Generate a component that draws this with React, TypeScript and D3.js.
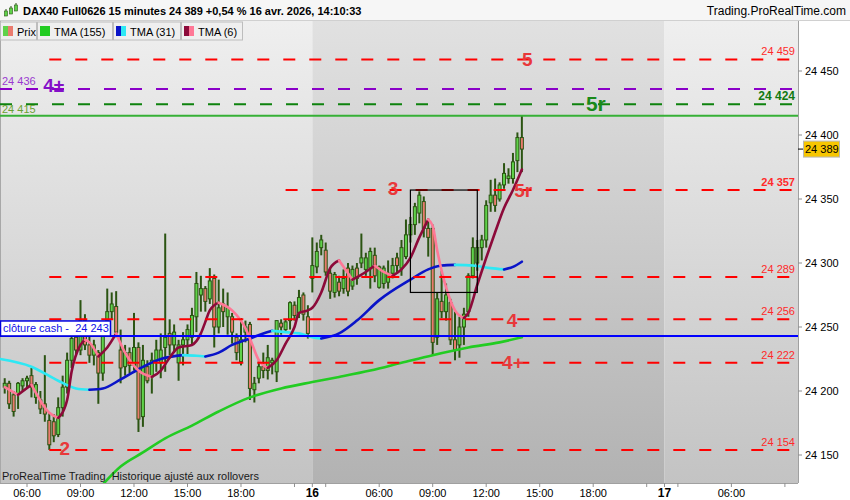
import React, { useEffect, useRef } from 'react';
import * as d3 from 'd3';

// slot = 15 minute bar counted from 06:00 on the 15th (session 02:15 - 22:00)
const day15Start = -5;
const day15Candles: number[][] = [
  [24203, 24210, 24198, 24206], [24206, 24208, 24186, 24190], [24197, 24200, 24180, 24184],
  [24198, 24207, 24186, 24206], [24204, 24210, 24200, 24208], [24208, 24212, 24202, 24210],
  [24212, 24218, 24195, 24203], [24195, 24207, 24190, 24205], [24193, 24200, 24182, 24186],
  [24190, 24228, 24176, 24182], [24177, 24183, 24154, 24158], [24176, 24182, 24160, 24165],
  [24166, 24195, 24164, 24187], [24187, 24212, 24180, 24203], [24203, 24230, 24198, 24224],
  [24224, 24248, 24218, 24241], [24242, 24250, 24228, 24232], [24232, 24271, 24228, 24255],
  [24255, 24260, 24232, 24236], [24236, 24245, 24222, 24228], [24228, 24240, 24220, 24236],
  [24230, 24232, 24190, 24214], [24214, 24248, 24208, 24244], [24255, 24280, 24250, 24262],
  [24262, 24277, 24256, 24268], [24266, 24278, 24242, 24246], [24232, 24248, 24206, 24218],
  [24219, 24236, 24212, 24230], [24230, 24234, 24214, 24220], [24220, 24261, 24216, 24234],
  [24234, 24238, 24168, 24178], [24180, 24236, 24172, 24224], [24219, 24224, 24206, 24208],
  [24211, 24230, 24198, 24224], [24224, 24240, 24215, 24232], [24222, 24245, 24210, 24232],
  [24234, 24323, 24215, 24242], [24245, 24256, 24228, 24236], [24236, 24252, 24230, 24246],
  [24222, 24240, 24208, 24236], [24236, 24246, 24220, 24240], [24240, 24252, 24228, 24248],
  [24242, 24265, 24236, 24259], [24258, 24293, 24246, 24284], [24275, 24290, 24262, 24280],
  [24280, 24282, 24262, 24270], [24272, 24296, 24268, 24286], [24288, 24291, 24234, 24250],
  [24250, 24287, 24245, 24265], [24268, 24280, 24250, 24262], [24258, 24277, 24244, 24265],
  [24258, 24261, 24237, 24246], [24242, 24245, 24224, 24230], [24223, 24257, 24220, 24240],
  [24246, 24255, 24238, 24250], [24252, 24254, 24193, 24202], [24201, 24211, 24191, 24206],
  [24210, 24224, 24206, 24219], [24219, 24230, 24210, 24216], [24216, 24236, 24209, 24226],
  [24222, 24226, 24213, 24224], [24215, 24255, 24207, 24255], [24253, 24256, 24244, 24250],
  [24248, 24256, 24246, 24254], [24255, 24270, 24248, 24269], [24267, 24270, 24255, 24259],
  [24261, 24279, 24257, 24273], [24275, 24277, 24255, 24260], [24258, 24267, 24241, 24245],
];

const day16Start = 64;
const day16Candles: number[][] = [
  [24288, 24320, 24277, 24298], [24297, 24316, 24292, 24309], [24312, 24322, 24306, 24318],
  [24310, 24316, 24290, 24293], [24292, 24296, 24272, 24278], [24277, 24293, 24273, 24291],
  [24285, 24290, 24274, 24278], [24280, 24295, 24276, 24288], [24296, 24300, 24274, 24278],
  [24282, 24298, 24279, 24295], [24296, 24300, 24283, 24288], [24300, 24323, 24296, 24304],
  [24295, 24308, 24290, 24304], [24296, 24312, 24280, 24309], [24306, 24312, 24285, 24290],
  [24281, 24298, 24280, 24297], [24284, 24298, 24280, 24296], [24285, 24302, 24280, 24292],
  [24292, 24304, 24288, 24298], [24304, 24308, 24292, 24298], [24296, 24318, 24290, 24312],
  [24305, 24334, 24303, 24322], [24322, 24336, 24316, 24330], [24330, 24347, 24322, 24344],
  [24339, 24356, 24331, 24353], [24348, 24352, 24320, 24327], [24327, 24334, 24305, 24320],
  [24327, 24330, 24228, 24238], [24242, 24277, 24236, 24272], [24270, 24294, 24257, 24262],
  [24262, 24284, 24255, 24275], [24269, 24272, 24236, 24240], [24240, 24262, 24224, 24232],
  [24236, 24258, 24226, 24250], [24250, 24265, 24236, 24260], [24262, 24292, 24258, 24290],
  [24290, 24320, 24288, 24312], [24300, 24318, 24294, 24312], [24312, 24322, 24302, 24318],
  [24318, 24349, 24312, 24345], [24347, 24365, 24340, 24353], [24353, 24366, 24340, 24345],
  [24350, 24363, 24348, 24361], [24361, 24378, 24358, 24370], [24366, 24374, 24362, 24368],
  [24366, 24386, 24362, 24379], [24380, 24402, 24371, 24398], [24398, 24415, 24371, 24389],
];

// moving averages: [slot, value]
const tma155: number[][] = [
  [17, 24127], [21, 24141], [26, 24152], [31, 24163], [37, 24173], [43, 24184], [50, 24195],
  [57, 24202], [64, 24207], [70, 24211], [77, 24216], [84, 24222], [91, 24228], [99, 24234],
  [106, 24238], [111, 24242],
];
const tma31: number[][] = [
  [-6, 24225], [1, 24219], [7, 24208], [11, 24202], [14, 24201], [17, 24202], [21, 24209],
  [25, 24217], [30, 24225], [35, 24228], [38, 24227.5], [40, 24227], [43, 24230], [46, 24236],
  [50, 24241], [53, 24245], [55, 24247], [58, 24246], [61, 24245], [64, 24242], [66, 24241],
  [70, 24245], [74, 24255], [79, 24271], [86, 24287], [90, 24295], [93, 24298], [96, 24298.5],
  [100, 24298], [104, 24296], [107, 24295], [109, 24297], [111, 24301],
];
const tma6: number[][] = [
  [-5, 24203], [-2, 24197], [1, 24205], [5, 24183], [7, 24179], [9, 24193], [10, 24215],
  [12, 24236], [13, 24240], [14, 24238], [16, 24227], [18, 24234], [20, 24245], [22, 24230],
  [25, 24216], [28, 24211], [30, 24216], [32, 24226], [34, 24234], [37, 24236], [39, 24245],
  [40, 24254], [41, 24263], [43, 24269], [46, 24263], [49, 24249], [50, 24241], [52, 24224],
  [54, 24218], [56, 24224], [58, 24237], [60, 24250], [61, 24261], [63, 24263], [64, 24265],
  [66, 24277], [68, 24296], [70, 24302], [72, 24292], [73, 24287], [76, 24293], [78, 24298],
  [80, 24293], [82, 24290], [84, 24295], [86, 24304], [88, 24320], [90, 24334], [91, 24329],
  [92, 24310], [94, 24281], [96, 24263], [98, 24257], [99, 24261], [101, 24283], [103, 24304],
  [105, 24324], [107, 24343], [109, 24357], [111, 24373],
];

const redLevels = [24459, 24357, 24289, 24256, 24222, 24154];
const redLevelFrom = [5, 58, 5, 5, 5, 5];
const purpleLevel = 24436;
const greenDashLevel = 24424;
const greenLevel = 24415;
const cashClose = 24243;
const lastPrice = 24389;

const boxSlots = [86, 101];
const boxPrices = [24357, 24277];

const annText = ['5', '4±', '5r', '3', '5r', '4', '4+', '2'];
const annSlot = [112.2, 6, 127.6, 82.1, 111.3, 108.8, 109, 8.5];
const annPrice = [24459, 24439, 24425, 24358, 24357, 24255, 24222, 24155];
const annKind = ['red', 'purple', 'green', 'red', 'red', 'red', 'red', 'red'];

const yTicks = [24150, 24200, 24250, 24300, 24350, 24400, 24450];
const xTickSlots = [0, 12, 24, 36, 48, 60, 64, 67, 79, 91, 103, 115, 127, 139, 143, 146, 158, 170];
const xTickLabels = ['06:00', '09:00', '12:00', '15:00', '18:00', '', '16', '', '06:00', '09:00',
  '12:00', '15:00', '18:00', '', '17', '', '06:00', ''];

const legendLabels = ['Prix', 'TMA (155)', 'TMA (31)', 'TMA (6)'];
const headerText = 'DAX40 Full0626 15 minutes 24 389 +0,54 % 16 avr. 2026, 14:10:33';

const W = 850;
const H = 500;
const plotR = 798;
const plotT = 21;
const plotB = 483;
const font = '"Liberation Sans", Arial, sans-serif';

const fmt = (v: number) => `${Math.floor(v / 1000)} ${String(Math.round(v) % 1000).padStart(3, '0')}`;

function runs(pts: number[][]) {
  const out: { up: boolean; pts: number[][] }[] = [];
  for (let i = 1; i < pts.length; i++) {
    const up = pts[i][1] > pts[i - 1][1];
    const last = out[out.length - 1];
    if (last && last.up === up) last.pts.push(pts[i]);
    else out.push({ up, pts: [pts[i - 1], pts[i]] });
  }
  return out;
}

const App: React.FC = () => {
  const svgRef = useRef<SVGSVGElement | null>(null);

  useEffect(() => {
    if (!svgRef.current) return;
    const svg = d3.select(svgRef.current);
    svg.selectAll('*').remove();

    const x = d3.scaleLinear().domain([0, 103]).range([27, 486.2]);
    const y = d3.scaleLinear().domain([24150, 24450]).range([455, 71]);

    const defs = svg.append('defs');
    const grad = (id: string, top: string, bottom: string) => {
      const g = defs.append('linearGradient').attr('id', id)
        .attr('x1', 0).attr('y1', 0).attr('x2', 0).attr('y2', 1);
      g.append('stop').attr('offset', '0%').attr('stop-color', top);
      g.append('stop').attr('offset', '100%').attr('stop-color', bottom);
    };
    grad('bgLight', '#efefef', '#c3c3c3');
    grad('bgDark', '#e1e1e1', '#b2b2b2');
    defs.append('clipPath').attr('id', 'plotClip')
      .append('rect').attr('x', 0).attr('y', plotT).attr('width', plotR).attr('height', plotB - plotT);

    svg.append('rect').attr('width', W).attr('height', H).attr('fill', '#ffffff');

    // day shading
    const bounds = [0, x(64), x(143), plotR];
    ['bgLight', 'bgDark', 'bgLight'].forEach((id, i) => {
      svg.append('rect')
        .attr('x', bounds[i]).attr('y', plotT)
        .attr('width', bounds[i + 1] - bounds[i]).attr('height', plotB - plotT)
        .attr('fill', `url(#${id})`);
    });
    svg.append('line').attr('x1', 0.5).attr('x2', 0.5).attr('y1', plotT).attr('y2', plotB)
      .attr('stroke', '#a8a8a8');

    const plot = svg.append('g').attr('clip-path', 'url(#plotClip)');

    // candles
    const bars = [
      ...day15Candles.map((c, i) => ({ s: day15Start + i, o: c[0], h: c[1], l: c[2], c: c[3] })),
      ...day16Candles.map((c, i) => ({ s: day16Start + i, o: c[0], h: c[1], l: c[2], c: c[3] })),
    ];
    const cg = plot.append('g');
    cg.selectAll('line').data(bars).join('line')
      .attr('x1', d => x(d.s)).attr('x2', d => x(d.s))
      .attr('y1', d => y(d.h)).attr('y2', d => y(d.l))
      .attr('stroke', '#2b5412').attr('stroke-width', 2);
    cg.selectAll('rect').data(bars).join('rect')
      .attr('x', d => x(d.s) - 1.5).attr('width', 3)
      .attr('y', d => y(Math.max(d.o, d.c)))
      .attr('height', d => Math.max(1, Math.abs(y(d.o) - y(d.c))))
      .attr('fill', d => (d.c >= d.o ? '#5fd24a' : '#ea7b6e'))
      .attr('stroke', '#2b5412').attr('stroke-width', 1);

    // moving averages
    const line = d3.line<number[]>().x(d => x(d[0])).y(d => y(d[1])).curve(d3.curveMonotoneX);
    const drawTma = (pts: number[][], upColor: string, downColor: string) => {
      runs(pts).forEach(r => {
        plot.append('path').attr('d', line(r.pts) as string)
          .attr('fill', 'none').attr('stroke', r.up ? upColor : downColor)
          .attr('stroke-width', 2.6).attr('stroke-linecap', 'round');
      });
    };
    drawTma(tma155, '#22cc22', '#22cc22');
    drawTma(tma31, '#0a14c8', '#2ee8f4');
    drawTma(tma6, '#8c0a3a', '#ff7896');

    // levels
    const hline = (v: number, from: number, color: string, dash: string | null, w = 2) => {
      const l = plot.append('line')
        .attr('x1', from).attr('x2', plotR)
        .attr('y1', y(v)).attr('y2', y(v))
        .attr('stroke', color).attr('stroke-width', w);
      if (dash) l.attr('stroke-dasharray', dash);
    };
    redLevels.forEach((v, i) => hline(v, x(redLevelFrom[i]), '#ff0000', '12,14'));
    hline(purpleLevel, 0, '#8a00c8', '12,14');
    hline(greenDashLevel, 0, '#0e820e', '12,14');
    hline(greenLevel, 0, '#36b036', null);
    hline(cashClose, 0, '#0000ff', null);

    // analysis box
    plot.append('rect')
      .attr('x', x(boxSlots[0])).attr('y', y(boxPrices[0]))
      .attr('width', x(boxSlots[1]) - x(boxSlots[0]))
      .attr('height', y(boxPrices[1]) - y(boxPrices[0]))
      .attr('fill', 'none').attr('stroke', '#000').attr('stroke-width', 1.2);

    // level labels
    redLevels.forEach(v => {
      plot.append('text').attr('x', 795).attr('y', y(v) - 4)
        .attr('text-anchor', 'end').attr('font-family', font).attr('font-size', 11)
        .attr('font-weight', v === 24357 ? 'bold' : 'normal')
        .attr('fill', '#ff2a2a').text(fmt(v));
    });
    plot.append('text').attr('x', 795).attr('y', y(greenDashLevel) - 4)
      .attr('text-anchor', 'end').attr('font-family', font).attr('font-size', 12)
      .attr('font-weight', 'bold').attr('fill', '#127a12').text(fmt(greenDashLevel));
    plot.append('text').attr('x', 2).attr('y', y(purpleLevel) - 4)
      .attr('font-family', font).attr('font-size', 11).attr('fill', '#9a3ad0').text(fmt(purpleLevel));
    plot.append('text').attr('x', 2).attr('y', y(greenLevel) - 3)
      .attr('font-family', font).attr('font-size', 11).attr('fill', '#6aa232').text(fmt(greenLevel));

    // clôture cash tag
    plot.append('rect').attr('x', 0.5).attr('y', y(cashClose) - 15).attr('width', 110).attr('height', 15)
      .attr('fill', '#ffffff').attr('stroke', '#0000e0').attr('stroke-width', 1.5);
    plot.append('text').attr('x', 3).attr('y', y(cashClose) - 3.5)
      .attr('font-family', font).attr('font-size', 11).attr('fill', '#1010e8')
      .style('white-space', 'pre').text(`clôture cash -  ${fmt(cashClose)}`);

    // wave annotations
    const annColor: Record<string, string> = { red: '#e8383a', purple: '#8410c8', green: '#1a8a1a' };
    annText.forEach((t, i) => {
      plot.append('text').attr('x', x(annSlot[i])).attr('y', y(annPrice[i]))
        .attr('text-anchor', 'middle').attr('dominant-baseline', 'central')
        .attr('font-family', font).attr('font-weight', 'bold')
        .attr('font-size', annKind[i] === 'green' ? 21 : 19)
        .attr('fill', annColor[annKind[i]]).text(t);
    });

    plot.append('text').attr('x', 2).attr('y', 480)
      .attr('font-family', font).attr('font-size', 11).attr('fill', '#1a1a1a')
      .style('white-space', 'pre').text('ProRealTime Trading  Historique ajusté aux rollovers');

    // header
    svg.append('rect').attr('width', W).attr('height', plotT).attr('fill', '#f6f6f6');
    svg.append('line').attr('x1', 0).attr('x2', W).attr('y1', plotT - 0.5).attr('y2', plotT - 0.5)
      .attr('stroke', '#d0d0d0');
    const icon = svg.append('g');
    [[6, 9, 15, 11, 14], [11, 6, 14, 8, 12], [16, 3, 11, 5, 9]].forEach(c => {
      icon.append('line').attr('x1', c[0]).attr('x2', c[0]).attr('y1', c[1]).attr('y2', c[2])
        .attr('stroke', '#2b5412').attr('stroke-width', 1);
      icon.append('rect').attr('x', c[0] - 1.5).attr('y', c[3]).attr('width', 3).attr('height', c[4] - c[3] + 2)
        .attr('fill', '#5fd24a').attr('stroke', '#2b5412').attr('stroke-width', 0.6);
    });
    svg.append('text').attr('x', 23).attr('y', 15)
      .attr('font-family', font).attr('font-size', 11).attr('font-weight', 'bold').attr('fill', '#000')
      .text(headerText);
    svg.append('text').attr('x', 846).attr('y', 15).attr('text-anchor', 'end')
      .attr('font-family', font).attr('font-size', 12).attr('fill', '#000')
      .text('Trading.ProRealTime.com');

    // legend
    const legX = [0, 37, 113, 181];
    const legW = [36, 75, 67, 61];
    const swatches = [['#5fd24a', '#ea7b6e'], ['#22cc22', '#22cc22'], ['#0a14c8', '#2ee8f4'], ['#8c0a3a', '#ff7896']];
    legendLabels.forEach((lab, i) => {
      const g = svg.append('g').attr('transform', `translate(${legX[i]},${plotT + 1})`);
      g.append('rect').attr('x', 0.5).attr('y', 0).attr('width', legW[i]).attr('height', 18)
        .attr('fill', '#efefef').attr('stroke', '#bdbdbd');
      g.append('rect').attr('x', 3).attr('y', 4).attr('width', 5).attr('height', 10).attr('fill', swatches[i][0]);
      g.append('rect').attr('x', 8).attr('y', 4).attr('width', 5).attr('height', 10).attr('fill', swatches[i][1]);
      g.append('text').attr('x', 17).attr('y', 13.5)
        .attr('font-family', font).attr('font-size', 11).attr('fill', '#000').text(lab);
    });

    // right axis
    svg.append('line').attr('x1', plotR + 0.5).attr('x2', plotR + 0.5).attr('y1', plotT).attr('y2', plotB)
      .attr('stroke', '#a0a0a0');
    const ya = svg.append('g');
    yTicks.forEach(t => {
      ya.append('line').attr('x1', plotR).attr('x2', plotR + 4).attr('y1', y(t)).attr('y2', y(t))
        .attr('stroke', '#909090');
      ya.append('text').attr('x', 805).attr('y', y(t)).attr('dominant-baseline', 'central')
        .attr('font-family', font).attr('font-size', 11).attr('fill', '#000').text(fmt(t));
    });
    ya.append('line').attr('x1', plotR).attr('x2', plotR + 5).attr('y1', y(lastPrice)).attr('y2', y(lastPrice))
      .attr('stroke', '#000');
    ya.append('rect').attr('x', 803.5).attr('y', y(lastPrice) - 8).attr('width', 36).attr('height', 16)
      .attr('fill', '#f7c600').attr('stroke', '#b8b8b8');
    ya.append('text').attr('x', 805).attr('y', y(lastPrice)).attr('dominant-baseline', 'central')
      .attr('font-family', font).attr('font-size', 11).attr('fill', '#000').text(fmt(lastPrice));

    // bottom axis
    svg.append('line').attr('x1', 0).attr('x2', plotR).attr('y1', plotB + 0.5).attr('y2', plotB + 0.5)
      .attr('stroke', '#a0a0a0');
    xTickSlots.forEach((s, i) => {
      const px = x(s);
      if (px > plotR) return;
      svg.append('line').attr('x1', px).attr('x2', px).attr('y1', plotB).attr('y2', plotB + 4)
        .attr('stroke', '#909090');
      const lab = xTickLabels[i];
      if (!lab) return;
      svg.append('text').attr('x', px).attr('y', 497).attr('text-anchor', 'middle')
        .attr('font-family', font).attr('font-size', lab.length <= 2 ? 12 : 11)
        .attr('font-weight', lab.length <= 2 ? 'bold' : 'normal')
        .attr('fill', '#000').text(lab);
    });
  }, []);

  return (
    <svg
      ref={svgRef}
      width={W}
      height={H}
      viewBox={`0 0 ${W} ${H}`}
      style={{ position: 'absolute', left: 0, top: 0, display: 'block' }}
    />
  );
};

export default App;
